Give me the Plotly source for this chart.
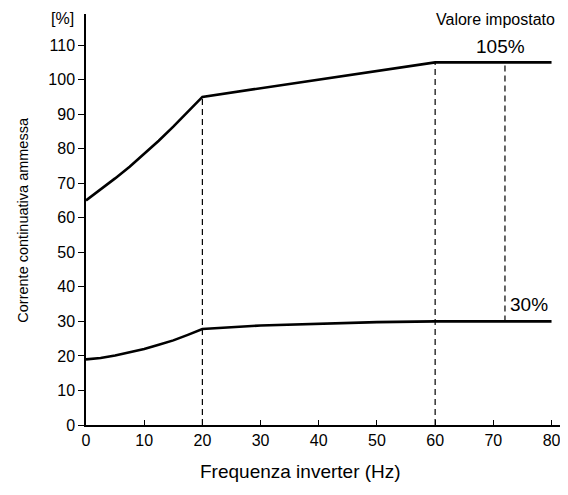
import plotly.graph_objects as go

# upper curve (setting 105%)
upper_hz = [0, 2.5, 5, 7.5, 10, 12.5, 15, 17.5, 20, 60, 80]
upper_pct = [65, 68.1, 71.4, 74.8, 78.5, 82.3, 86.4, 90.6, 95, 105, 105]

# lower curve (setting 30%)
lower_hz = [0, 2.5, 5, 7.5, 10, 12.5, 15, 17.5, 20, 30, 40, 50, 60, 80]
lower_pct = [19, 19.4, 20.1, 21, 22, 23.2, 24.5, 26.1, 27.8, 28.8, 29.4, 29.8, 30, 30]

# dashed guide lines
guide_20_hz = [20, 20]
guide_20_pct = [0, 95]
guide_60_hz = [60, 60]
guide_60_pct = [0, 105]
guide_set_hz = [72, 72]
guide_set_pct = [30, 105]

x_ticks = [0, 10, 20, 30, 40, 50, 60, 70, 80]
y_ticks = [0, 10, 20, 30, 40, 50, 60, 70, 80, 90, 100, 110]

font = "Liberation Sans, Arial, sans-serif"

fig = go.Figure()

for gx, gy in [(guide_20_hz, guide_20_pct), (guide_60_hz, guide_60_pct),
               (guide_set_hz, guide_set_pct)]:
    fig.add_trace(go.Scatter(x=gx, y=gy, mode="lines",
                             line=dict(color="black", width=1.2, dash="6px,4px"),
                             hoverinfo="skip"))

fig.add_trace(go.Scatter(x=upper_hz, y=upper_pct, mode="lines",
                         line=dict(color="black", width=2.6)))
fig.add_trace(go.Scatter(x=lower_hz, y=lower_pct, mode="lines",
                         line=dict(color="black", width=2.6)))

# page body adds an 8px offset, so the figure is a bit smaller than the window
fig.update_layout(
    width=560,
    height=487,
    showlegend=False,
    paper_bgcolor="white",
    plot_bgcolor="white",
    margin=dict(l=78, r=6, t=6, b=70),
    font=dict(family=font, color="black", size=16),
)

fig.update_xaxes(
    range=[0, 81.8],
    tickvals=x_ticks,
    ticks="inside",
    ticklen=5,
    tickcolor="black",
    showline=True,
    linecolor="black",
    linewidth=1.5,
    showgrid=False,
    zeroline=False,
    tickfont=dict(size=16),
)
fig.update_yaxes(
    range=[0, 119],
    tickvals=y_ticks,
    ticks="outside",
    ticklen=6,
    tickcolor="black",
    showline=True,
    linecolor="black",
    linewidth=1.5,
    showgrid=False,
    zeroline=False,
    tickfont=dict(size=16),
)

fig.add_annotation(text="Corrente continuativa ammessa", xref="paper", yref="paper",
                   x=-0.134, y=0.5, xanchor="center", yanchor="middle",
                   textangle=-90, showarrow=False, font=dict(size=14.5))
fig.add_annotation(text="Frequenza inverter (Hz)", xref="paper", yref="paper",
                   x=0.45, y=-0.112, xanchor="center", yanchor="middle",
                   showarrow=False, font=dict(size=19))
fig.add_annotation(text="[%]", xref="paper", yref="paper", x=-0.05, y=0.99,
                   xanchor="center", yanchor="middle", showarrow=False,
                   font=dict(size=16))
fig.add_annotation(text="Valore impostato", x=70.4, y=117.4, showarrow=False,
                   font=dict(size=16))
fig.add_annotation(text="105%", x=71.3, y=109.5, showarrow=False, font=dict(size=19))
fig.add_annotation(text="30%", x=76.1, y=35, showarrow=False, font=dict(size=19))

fig.write_html("out.html")
